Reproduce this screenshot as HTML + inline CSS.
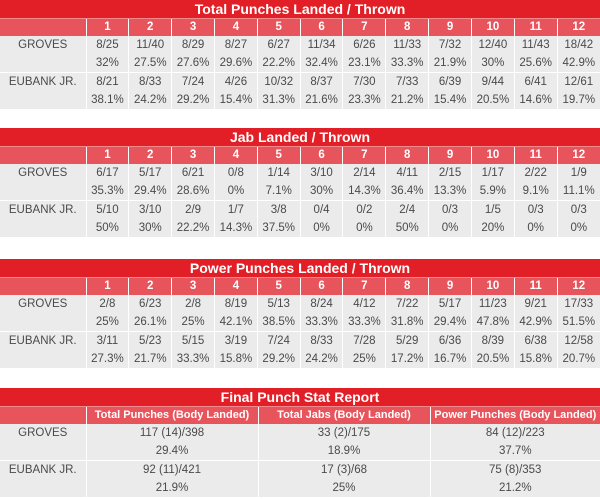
<!DOCTYPE html>
<html><head><meta charset="utf-8"><style>
body{margin:0;width:600px;height:499px;background:#fff;font-family:"Liberation Sans",sans-serif;overflow:hidden;position:relative}
.blk{position:absolute;left:0;width:600px}
.t{height:18px;background:#e21f26;color:#fff;font-weight:bold;font-size:14px;text-align:center;line-height:18px}
table{border-collapse:collapse;width:600px;table-layout:fixed}
td{height:18px;padding:0;text-align:center;font-size:11.5px;color:#4a4a4a;background:#ebebeb;border-left:1px solid #fff;line-height:18px;white-space:nowrap}
tr.h td{background:#e8545b;color:#fff;font-weight:bold;height:17px;line-height:17px;border-top:1px solid #f08a8e}
tr.s td{border-top:1px solid #fff}
td.l{border-left:none}
.f tr.h td{font-size:11px}
</style></head><body>

<div class="blk" style="top:0">
<div class="t">Total Punches Landed / Thrown</div>
<table><colgroup><col style="width:86px"><col span="12"></colgroup>
<tr class="h"><td class="l"></td><td>1</td><td>2</td><td>3</td><td>4</td><td>5</td><td>6</td><td>7</td><td>8</td><td>9</td><td>10</td><td>11</td><td>12</td></tr>
<tr><td class="l">GROVES</td><td>8/25</td><td>11/40</td><td>8/29</td><td>8/27</td><td>6/27</td><td>11/34</td><td>6/26</td><td>11/33</td><td>7/32</td><td>12/40</td><td>11/43</td><td>18/42</td></tr>
<tr><td class="l"></td><td>32%</td><td>27.5%</td><td>27.6%</td><td>29.6%</td><td>22.2%</td><td>32.4%</td><td>23.1%</td><td>33.3%</td><td>21.9%</td><td>30%</td><td>25.6%</td><td>42.9%</td></tr>
<tr class="s"><td class="l">EUBANK JR.</td><td>8/21</td><td>8/33</td><td>7/24</td><td>4/26</td><td>10/32</td><td>8/37</td><td>7/30</td><td>7/33</td><td>6/39</td><td>9/44</td><td>6/41</td><td>12/61</td></tr>
<tr><td class="l"></td><td>38.1%</td><td>24.2%</td><td>29.2%</td><td>15.4%</td><td>31.3%</td><td>21.6%</td><td>23.3%</td><td>21.2%</td><td>15.4%</td><td>20.5%</td><td>14.6%</td><td>19.7%</td></tr>
</table></div>

<div class="blk" style="top:128px">
<div class="t">Jab Landed / Thrown</div>
<table><colgroup><col style="width:86px"><col span="12"></colgroup>
<tr class="h"><td class="l"></td><td>1</td><td>2</td><td>3</td><td>4</td><td>5</td><td>6</td><td>7</td><td>8</td><td>9</td><td>10</td><td>11</td><td>12</td></tr>
<tr><td class="l">GROVES</td><td>6/17</td><td>5/17</td><td>6/21</td><td>0/8</td><td>1/14</td><td>3/10</td><td>2/14</td><td>4/11</td><td>2/15</td><td>1/17</td><td>2/22</td><td>1/9</td></tr>
<tr><td class="l"></td><td>35.3%</td><td>29.4%</td><td>28.6%</td><td>0%</td><td>7.1%</td><td>30%</td><td>14.3%</td><td>36.4%</td><td>13.3%</td><td>5.9%</td><td>9.1%</td><td>11.1%</td></tr>
<tr class="s"><td class="l">EUBANK JR.</td><td>5/10</td><td>3/10</td><td>2/9</td><td>1/7</td><td>3/8</td><td>0/4</td><td>0/2</td><td>2/4</td><td>0/3</td><td>1/5</td><td>0/3</td><td>0/3</td></tr>
<tr><td class="l"></td><td>50%</td><td>30%</td><td>22.2%</td><td>14.3%</td><td>37.5%</td><td>0%</td><td>0%</td><td>50%</td><td>0%</td><td>20%</td><td>0%</td><td>0%</td></tr>
</table></div>

<div class="blk" style="top:259px">
<div class="t">Power Punches Landed / Thrown</div>
<table><colgroup><col style="width:86px"><col span="12"></colgroup>
<tr class="h"><td class="l"></td><td>1</td><td>2</td><td>3</td><td>4</td><td>5</td><td>6</td><td>7</td><td>8</td><td>9</td><td>10</td><td>11</td><td>12</td></tr>
<tr><td class="l">GROVES</td><td>2/8</td><td>6/23</td><td>2/8</td><td>8/19</td><td>5/13</td><td>8/24</td><td>4/12</td><td>7/22</td><td>5/17</td><td>11/23</td><td>9/21</td><td>17/33</td></tr>
<tr><td class="l"></td><td>25%</td><td>26.1%</td><td>25%</td><td>42.1%</td><td>38.5%</td><td>33.3%</td><td>33.3%</td><td>31.8%</td><td>29.4%</td><td>47.8%</td><td>42.9%</td><td>51.5%</td></tr>
<tr class="s"><td class="l">EUBANK JR.</td><td>3/11</td><td>5/23</td><td>5/15</td><td>3/19</td><td>7/24</td><td>8/33</td><td>7/28</td><td>5/29</td><td>6/36</td><td>8/39</td><td>6/38</td><td>12/58</td></tr>
<tr><td class="l"></td><td>27.3%</td><td>21.7%</td><td>33.3%</td><td>15.8%</td><td>29.2%</td><td>24.2%</td><td>25%</td><td>17.2%</td><td>16.7%</td><td>20.5%</td><td>15.8%</td><td>20.7%</td></tr>
</table></div>

<div class="blk f" style="top:388px">
<div class="t">Final Punch Stat Report</div>
<table><colgroup><col style="width:86px"><col style="width:172px"><col style="width:172px"><col></colgroup>
<tr class="h"><td class="l"></td><td>Total Punches (Body Landed)</td><td>Total Jabs (Body Landed)</td><td>Power Punches (Body Landed)</td></tr>
<tr><td class="l">GROVES</td><td>117 (14)/398</td><td>33 (2)/175</td><td>84 (12)/223</td></tr>
<tr><td class="l"></td><td>29.4%</td><td>18.9%</td><td>37.7%</td></tr>
<tr class="s"><td class="l">EUBANK JR.</td><td>92 (11)/421</td><td>17 (3)/68</td><td>75 (8)/353</td></tr>
<tr><td class="l"></td><td>21.9%</td><td>25%</td><td>21.2%</td></tr>
</table></div>

</body></html>
